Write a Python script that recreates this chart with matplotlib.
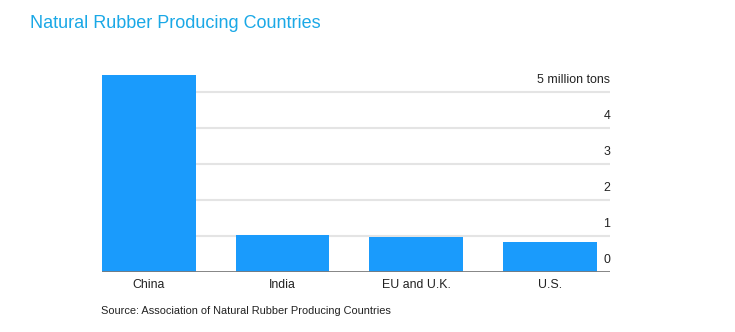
import matplotlib.pyplot as plt
import matplotlib.transforms as mtransforms

# dados
paises = ['China', 'India', 'EU and U.K.', 'U.S.']
producao = [5.47, 1.03, 0.97, 0.83]  # milhoes de toneladas
ticks_y = [0, 1, 2, 3, 4, 5]
rotulos_y = ['0', '1', '2', '3', '4', '5 million tons']

plt.rcParams['font.family'] = ['Liberation Sans', 'DejaVu Sans']

fig = plt.figure(figsize=(7.35, 3.32), dpi=100)
ax = fig.add_axes([0.1388, 0.1807, 0.6912, 0.5963])

ax.bar(range(len(paises)), producao, width=0.7, color='#1A9BFC', zorder=3)

ax.set_xlim(-0.35, 3.45)
ax.set_ylim(0, 5.5)

# grade horizontal
for v in ticks_y[1:]:
    ax.axhline(v, color='#e4e4e4', lw=1.5, zorder=1)
ax.axhline(0, color='#7a7a7a', lw=2, zorder=4)

# rotulos do eixo y acima das linhas, alinhados a direita
trans = mtransforms.blended_transform_factory(ax.transAxes, ax.transData)
for v, r in zip(ticks_y, rotulos_y):
    ax.text(1.0, v + 0.17, r, transform=trans, ha='right', va='bottom',
            fontsize=8.9, color='#222222')

ax.set_xticks(range(len(paises)))
ax.set_xticklabels(paises, fontsize=8.9, color='#222222')
ax.tick_params(axis='x', length=0, pad=5)
ax.set_yticks([])
for s in ax.spines.values():
    s.set_visible(False)

fig.text(30 / 735, 1 - 24 / 332, 'Natural Rubber Producing Countries',
         fontsize=13, color='#1AA8E6', ha='left', va='center')
fig.text(101 / 735, 1 - 311 / 332, 'Source: Association of Natural Rubber Producing Countries',
         fontsize=7.9, color='#222222', ha='left', va='center')

fig.savefig('out.png', dpi=100)
